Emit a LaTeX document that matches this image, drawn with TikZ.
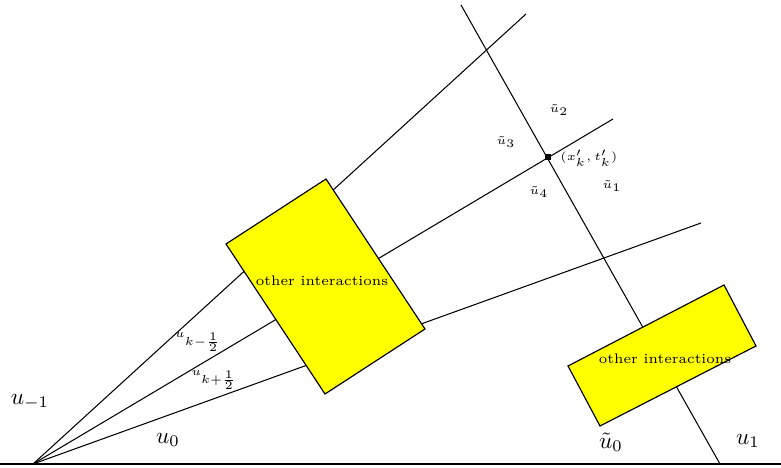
\documentclass[tikz,border=0pt]{standalone}
\usepackage{amsmath}
\definecolor{ybox}{RGB}{255,255,0}
\begin{document}
\begin{tikzpicture}[x=0.43pt,y=-0.43pt,
  ray/.style={line width=0.45pt},
  ibox/.style={fill=ybox,draw=black,line width=0.5pt,line join=miter},
  small/.style={font=\tiny,inner sep=0pt},
  big/.style={font=\normalsize,inner sep=0pt},
  boxtext/.style={font=\fontsize{6}{7}\selectfont,inner sep=0pt}]
\useasboundingbox (0,0) rectangle (781,468);
% points
\coordinate (O) at (33,464);
\coordinate (r1) at (526,14);
\coordinate (r2) at (613,119);
\coordinate (r3) at (701,223);
\coordinate (tA) at (461,5);
\coordinate (tB) at (720,464);
\coordinate (bL) at (0,464);
\coordinate (bR) at (781,464);
% lines
\draw[ray] (O) -- (r1);
\draw[ray] (O) -- (r2);
\draw[ray] (O) -- (r3);
\draw[ray] (tA) -- (tB);
\draw[line width=0.8pt] (bL) -- (bR);
% boxes
\coordinate (b1a) at (326,179);
\coordinate (b1b) at (425,329);
\coordinate (b1c) at (325,394);
\coordinate (b1d) at (226,244);
\filldraw[ibox] (b1a) -- (b1b) -- (b1c) -- (b1d) -- cycle;
\node[boxtext] (box1) at (322,281) {other interactions};
\coordinate (b2a) at (724,285);
\coordinate (b2b) at (756,346);
\coordinate (b2c) at (600,426);
\coordinate (b2d) at (568,366);
\filldraw[ibox] (b2a) -- (b2b) -- (b2c) -- (b2d) -- cycle;
\node[boxtext] (box2) at (665,359) {other interactions};
% point
\node[fill=black,minimum size=2.2pt,inner sep=0pt] (P) at (548,157) {};
\node[small,anchor=west] (Plab) at (560,158) {$(x'_k,t'_k)$};
% small labels
\node[small] (ut2) at (559,110) {$\tilde u_2$};
\node[small] (ut3) at (506,142) {$\tilde u_3$};
\node[small] (ut4) at (539,192) {$\tilde u_4$};
\node[small] (ut1) at (612,186) {$\tilde u_1$};
\node[small] (ukm) at (198,342) {$u_{k-\frac{1}{2}}$};
\node[small] (ukp) at (214,380) {$u_{k+\frac{1}{2}}$};
% big labels
\node[big] (um1) at (30,402) {$u_{-1}$};
\node[big] (u0) at (168,440) {$u_0$};
\node[big] (ut0) at (611,442) {$\tilde u_0$};
\node[big] (u1) at (748,441) {$u_1$};
\end{tikzpicture}
\end{document}
